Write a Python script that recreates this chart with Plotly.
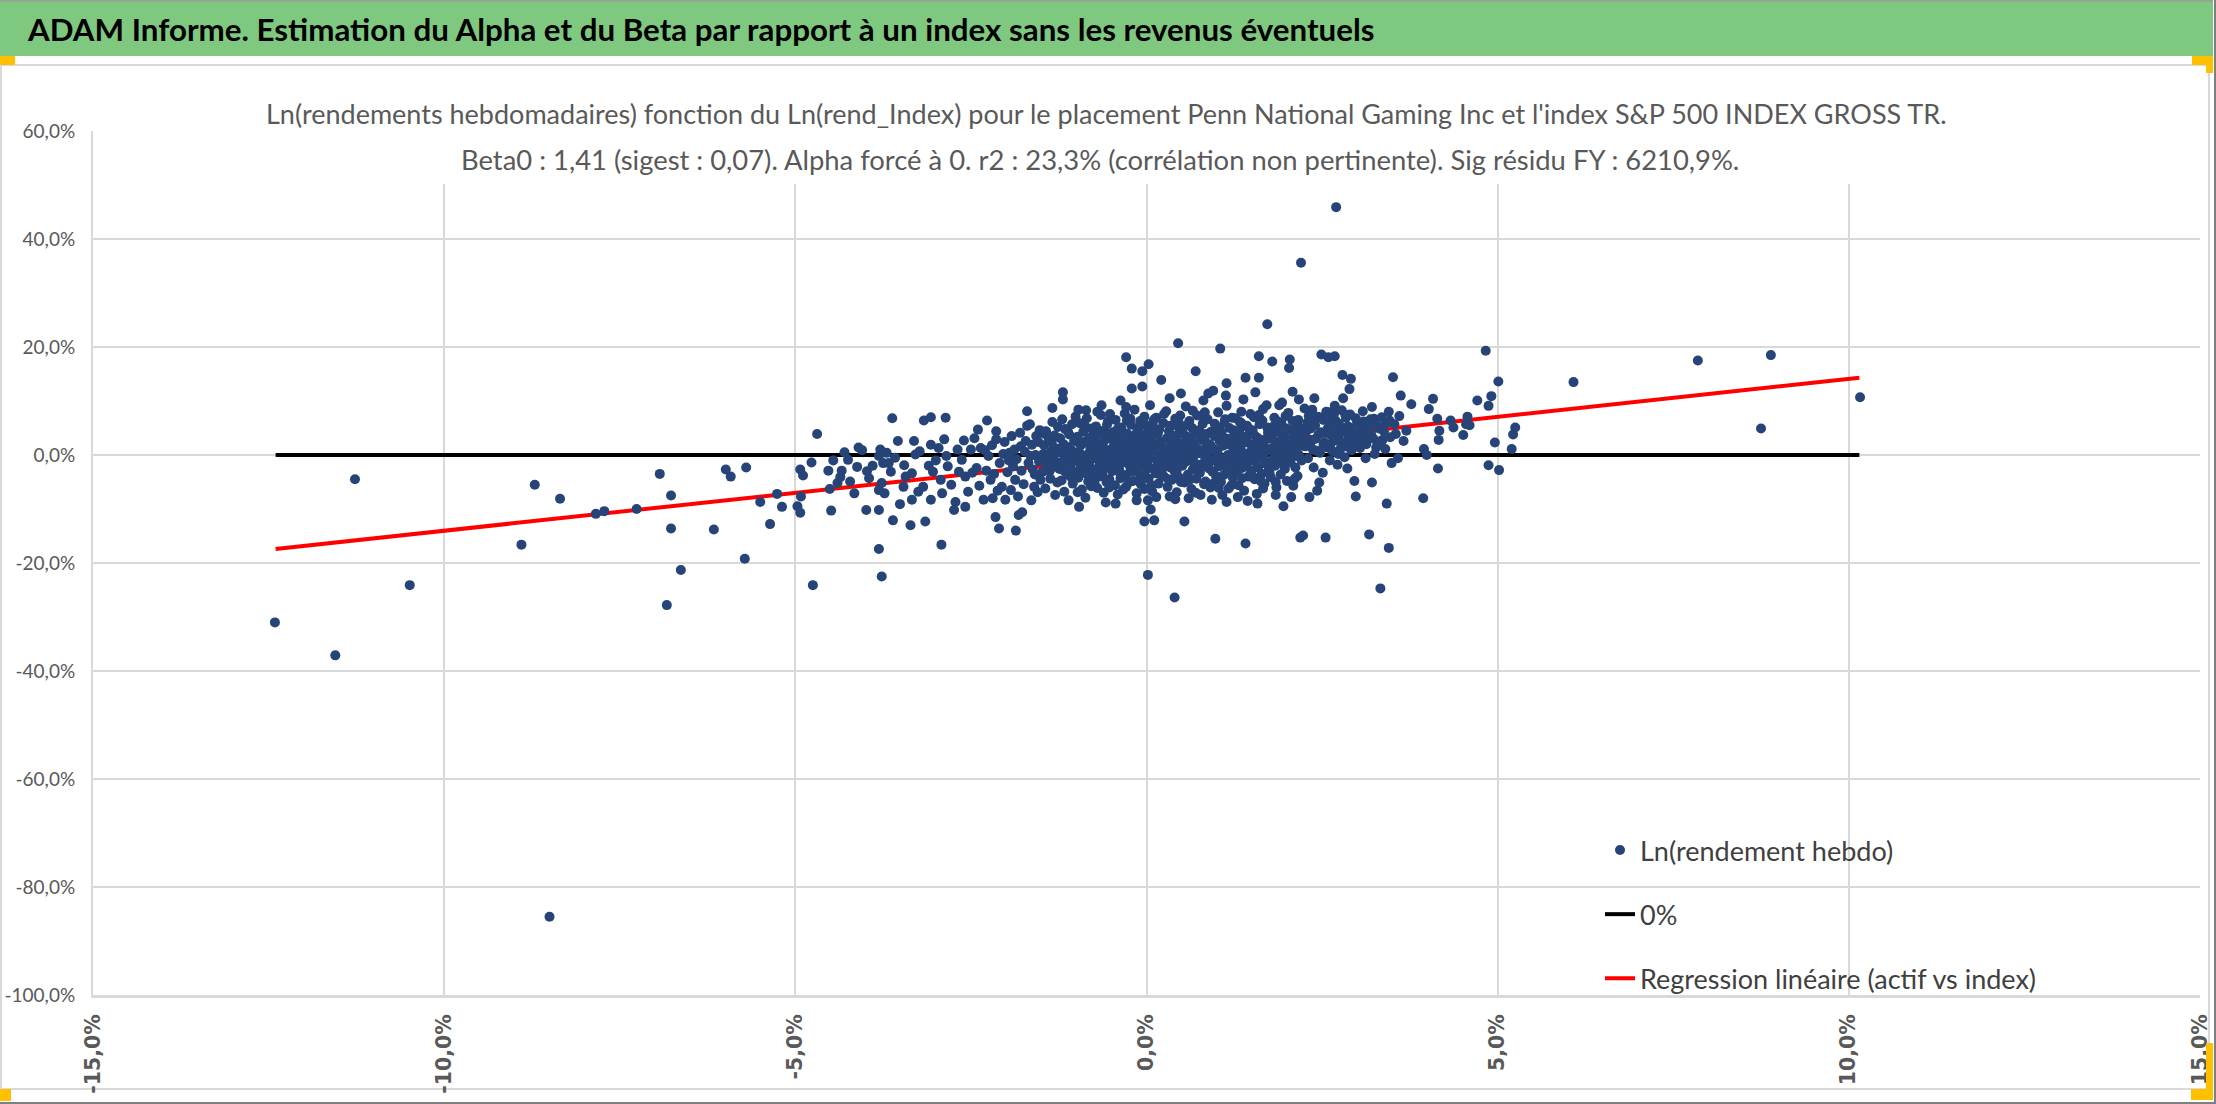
import plotly.graph_objects as go

# Ln(rendement hebdo) : (index S&P 500 en %, placement Penn National Gaming en %)
queue_gauche = [
    (-12.41, -31.0), (-11.55, -37.1), (-11.27, -4.5), (-10.49, -24.1), (-8.90, -16.6),
    (-8.71, -5.5), (-8.50, -85.5), (-8.35, -8.1), (-7.84, -10.9), (-7.72, -10.4),
    (-7.26, -10.0), (-6.93, -3.5), (-6.83, -27.8), (-6.77, -7.5), (-6.77, -13.6),
    (-6.63, -21.3), (-6.16, -13.8), (-5.99, -2.7), (-5.92, -4.0), (-5.70, -2.3),
    (-5.72, -19.2), (-5.50, -8.7), (-5.36, -12.8), (-5.26, -7.2), (-5.19, -9.6),
    (-4.93, -2.7), (-4.89, -3.8), (-4.97, -9.5), (-4.93, -10.7), (-4.92, -7.7),
    (-4.77, -1.4), (-4.69, 3.9), (-4.75, -24.1),
]

nuage_gauche = [
    (-4.53, -2.9), (-4.51, -6.3), (-4.49, -10.3), (-4.46, -1.0), (-4.40, -5.2), (-4.36, -4.1),
    (-4.34, -2.9), (-4.30, 0.5), (-4.25, -0.9), (-4.22, -4.9), (-4.16, -7.1), (-4.12, -2.2),
    (-4.10, 1.4), (-4.05, 0.9), (-3.99, -10.2), (-3.98, -3.0), (-3.95, -4.3), (-3.90, -2.0),
    (-3.81, -10.2), (-3.81, -17.4), (-3.77, -22.5), (-3.79, 1.0), (-3.81, -0.2), (-3.75, -1.5),
    (-3.70, 0.4), (-3.67, -1.5), (-3.64, -3.1), (-3.77, -5.2), (-3.73, -7.1), (-3.81, -6.5),
    (-3.62, 6.8), (-3.61, -12.1), (-3.58, -0.5), (-3.54, 2.6), (-3.51, -9.1), (-3.45, -1.9),
    (-3.43, -4.0), (-3.46, -5.9), (-3.36, -13.0), (-3.34, -3.4), (-3.34, -8.3), (-3.31, 2.6),
    (-3.29, 0.1), (-3.25, -6.8), (-3.23, 0.7), (-3.18, -5.9), (-3.17, 6.4), (-3.15, -12.3),
    (-3.10, -2.0), (-3.07, -8.3), (-3.07, 1.9), (-3.07, 7.0), (-3.04, -3.1), (-3.00, -1.0),
    (-2.96, 1.3), (-2.93, -4.6), (-2.92, -16.6), (-2.91, -7.1), (-2.88, 2.9), (-2.86, 6.9),
    (-2.85, -0.2), (-2.83, -2.1), (-2.78, -5.5), (-2.74, -10.2), (-2.72, -8.7), (-2.69, 1.0),
    (-2.67, -3.1), (-2.63, -0.9), (-2.60, 2.7), (-2.58, -4.0), (-2.58, -9.6), (-2.54, -6.8),
    (-2.50, 1.0), (-2.48, -3.3), (-2.45, 3.1), (-2.42, -2.4), (-2.40, 4.7), (-2.38, -5.7),
    (-2.36, 1.3), (-2.32, -8.3), (-2.30, 0.9), (-2.28, -2.9), (-2.27, 6.4), (-2.25, -0.2),
    (-2.22, -4.6), (-2.20, 1.8), (-2.19, -8.0), (-2.17, -3.5), (-2.15, -11.5), (-2.14, 2.9),
    (-2.14, 4.4), (-2.12, -6.6), (-2.10, -13.6), (-2.09, -1.5), (-2.06, -5.9), (-2.04, 0.2),
    (-2.02, 2.4), (-2.01, -8.3), (-1.98, -3.2), (-1.96, -1.0), (-1.95, 0.4), (-1.93, -6.5),
    (-1.92, 3.5), (-1.90, -2.1), (-1.88, 1.0), (-1.87, -4.6), (-1.86, -14.0), (-1.85, -0.8),
    (-1.83, -7.7), (-1.82, -11.1), (-1.80, 4.1), (-1.79, 1.6), (-1.78, -2.9), (-1.77, -10.6),
    (-1.75, -5.4), (-1.73, 0.6), (-1.72, 2.6), (-1.70, 5.4), (-1.70, 8.1), (-1.68, -1.5),
    (-1.66, 5.7), (-1.65, -0.2), (-1.64, -8.4), (-1.63, 1.9), (-1.62, -2.7), (-1.60, -5.9),
    (-1.59, -3.6), (-1.58, 0.0), (-1.57, 3.5), (-1.55, -6.9), (-1.54, 2.4), (-1.53, -1.2),
    (-1.52, 4.6), (-1.51, -4.6),
]

nuage_centre = [
    (-1.48, -3.1), (-1.47, 0.2), (-1.46, 1.8), (-1.45, 3.9), (-1.44, -6.2), (-1.43, 4.4),
    (-1.42, -1.8), (-1.41, -0.6), (-1.39, 2.9), (-1.38, -3.0), (-1.37, -4.4), (-1.36, 0.7),
    (-1.35, 2.3), (-1.34, 6.1), (-1.34, 8.7), (-1.33, -2.2), (-1.32, -0.1), (-1.31, 3.6),
    (-1.30, -7.4), (-1.29, -1.3), (-1.28, 1.2), (-1.27, -5.1), (-1.26, 5.2), (-1.24, -2.6),
    (-1.23, 3.1), (-1.22, 0.4), (-1.21, -4.7), (-1.20, 6.6), (-1.19, -1.2), (-1.19, 10.3),
    (-1.19, 11.6), (-1.18, 2.0), (-1.17, -6.8), (-1.16, 4.8), (-1.15, -0.5), (-1.14, 0.1),
    (-1.13, -3.6), (-1.12, 1.5), (-1.11, -8.4), (-1.10, 3.8), (-1.09, -1.6), (-1.08, -2.0),
    (-1.07, 0.9), (-1.06, 5.7), (-1.05, -5.3), (-1.04, -0.9), (-1.03, 2.6), (-1.02, -3.2),
    (-1.01, 7.1), (-0.99, -1.1), (-0.98, 3.4), (-0.97, -4.2), (-0.97, 8.4), (-0.96, 0.6),
    (-0.96, -9.6), (-0.95, 5.9), (-0.94, -2.5), (-0.93, 1.9), (-0.92, -6.4), (-0.91, -0.3),
    (-0.90, 4.3), (-0.89, -3.3), (-0.88, 2.4), (-0.87, -7.9), (-0.86, -1.7), (-0.86, 8.3),
    (-0.85, 6.8), (-0.84, 0.1), (-0.83, -4.9), (-0.82, 3.0), (-0.81, -2.2), (-0.80, 1.3),
    (-0.79, -5.8), (-0.78, 4.9), (-0.77, -0.7), (-0.76, 2.7), (-0.75, -3.8), (-0.74, 0.9),
    (-0.73, -2.9), (-0.72, 5.3), (-0.71, -0.2), (-0.70, -6.1), (-0.70, 8.0), (-0.69, 2.2),
    (-0.69, -2.4), (-0.68, -4.0), (-0.67, 3.9), (-0.66, -1.4), (-0.65, 7.4), (-0.64, 0.4),
    (-0.64, 9.2), (-0.63, -3.5), (-0.62, 1.6), (-0.61, -7.0), (-0.60, 4.6), (-0.59, -0.9),
    (-0.58, 2.9), (-0.58, -8.8), (-0.57, -5.0), (-0.56, -2.1), (-0.55, 6.2), (-0.54, 0.0),
    (-0.53, -4.5), (-0.52, 3.3), (-0.52, 7.6), (-0.51, -1.7), (-0.50, 1.1), (-0.49, -3.0),
    (-0.48, 4.2), (-0.47, -0.4), (-0.46, 2.0), (-0.45, -5.6), (-0.44, 6.5), (-0.44, -9.0),
    (-0.43, -1.9), (-0.42, 0.8), (-0.41, -7.3), (-0.41, -2.2), (-0.40, 3.5), (-0.39, -2.6),
    (-0.38, 1.4), (-0.37, -4.3), (-0.37, 10.1), (-0.36, 5.1), (-0.35, -0.8), (-0.34, 2.6),
    (-0.33, -6.4), (-0.33, 1.0), (-0.32, -1.3), (-0.31, 7.7), (-0.30, 0.3), (-0.29, -3.7),
    (-0.29, 8.9), (-0.29, 18.1), (-0.28, 4.0), (-0.28, 6.4), (-0.27, -0.1), (-0.26, 1.9),
    (-0.25, -5.1), (-0.24, 2.8), (-0.23, -2.3), (-0.22, 5.6), (-0.21, -0.6), (-0.21, 12.3),
    (-0.21, 16.0), (-0.20, 1.2), (-0.19, -4.8), (-0.18, 3.6), (-0.18, -1.0), (-0.17, 8.4),
    (-0.16, -1.6), (-0.15, 0.5), (-0.14, -7.1), (-0.14, -8.4), (-0.13, 4.5), (-0.12, -3.2),
    (-0.11, 2.3), (-0.11, 5.0), (-0.10, -0.3), (-0.09, 6.3), (-0.08, -5.4), (-0.07, 1.7),
    (-0.06, -2.0), (-0.06, 12.7), (-0.06, 15.5), (-0.05, 3.2), (-0.04, -0.9), (-0.03, 7.1),
    (-0.03, -6.3), (-0.03, -12.3), (-0.02, -3.9), (-0.01, 0.9), (0.01, -1.4), (0.02, 4.1),
    (0.02, -8.4), (0.02, -22.2), (0.03, -4.4), (0.03, 16.8), (0.04, 1.5), (0.05, 9.2),
    (0.06, -0.5), (0.06, -10.1), (0.07, 2.7), (0.08, -6.7), (0.08, 1.2), (0.09, 5.4),
    (0.10, -2.5), (0.11, 0.2), (0.11, -12.1), (0.12, 3.8), (0.12, 6.7), (0.13, -3.4),
    (0.14, 6.9), (0.14, -7.8), (0.15, -1.1), (0.16, 1.9), (0.17, -5.3), (0.18, 4.7),
    (0.18, -2.0), (0.19, -0.2), (0.20, 2.4), (0.21, 13.9), (0.22, -2.8), (0.23, 0.7),
    (0.24, 5.9), (0.25, -4.0), (0.26, 1.3), (0.27, -1.9), (0.28, 8.1), (0.29, 3.1),
    (0.30, -5.9), (0.30, -1.0), (0.31, 0.0), (0.32, 4.4), (0.33, 10.5), (0.33, -7.7),
    (0.34, -2.3), (0.35, 1.7), (0.36, -4.6), (0.36, 1.0), (0.37, 5.5), (0.38, -0.8),
    (0.39, 2.9), (0.40, -3.0), (0.40, -26.4), (0.41, 6.7), (0.41, -8.2), (0.42, 0.6),
    (0.43, -6.9), (0.44, 3.7), (0.45, -1.5), (0.45, 20.7), (0.46, 2.1), (0.47, -4.2),
    (0.47, 4.8), (0.48, 7.3), (0.49, 11.4), (0.50, -0.4), (0.51, -2.0), (0.52, 4.0),
    (0.53, 0.9), (0.54, -5.1), (0.54, -12.3), (0.55, 2.5), (0.56, 9.0), (0.57, -1.2),
    (0.57, 1.5), (0.58, 3.4), (0.59, -3.6), (0.60, 0.4), (0.60, -8.0), (0.61, 6.3),
    (0.62, -0.6), (0.63, 1.8), (0.64, -6.3), (0.65, 5.0), (0.66, -2.7), (0.66, 8.2),
    (0.67, 2.2), (0.68, -0.1), (0.69, 3.9), (0.70, 15.5), (0.70, -7.0), (0.71, -4.4),
    (0.72, 7.3), (0.73, 1.1), (0.74, -1.8), (0.75, 4.6), (0.76, -3.3), (0.77, -7.4),
    (0.78, 2.8), (0.79, 0.2), (0.79, -2.2), (0.80, 5.8), (0.81, 10.1), (0.82, -1.4),
    (0.83, 3.2), (0.83, 7.9), (0.84, -4.9), (0.85, 1.4), (0.86, -0.3), (0.87, 6.6),
    (0.87, -1.9), (0.88, 11.4), (0.89, -2.5), (0.90, 2.0), (0.91, -6.0), (0.92, 4.3),
    (0.92, 1.6), (0.93, -8.3), (0.94, 0.8), (0.95, 11.9), (0.95, -5.3), (0.96, -1.0),
    (0.97, 3.5), (0.98, -15.5), (0.99, -3.9), (1.00, 5.2), (1.01, 0.5), (1.02, 7.9),
    (1.03, -2.1), (1.04, 2.6), (1.04, 4.8), (1.05, 19.7), (1.06, -5.0), (1.07, 4.1),
    (1.08, -0.7), (1.08, -7.4), (1.09, 1.7), (1.10, -3.7), (1.11, 6.0), (1.12, -1.3),
    (1.13, 11.0), (1.14, -8.7), (1.14, 13.3), (1.14, 9.1), (1.15, 3.0), (1.16, 0.0),
    (1.17, -6.2), (1.18, 5.0), (1.18, -1.0), (1.19, -2.8), (1.20, 2.1), (1.21, -0.4),
    (1.22, 6.9), (1.23, -4.2), (1.24, 1.3), (1.25, 3.8), (1.26, -1.7), (1.27, 6.8),
    (1.28, 0.8), (1.29, -3.1), (1.30, 2.7), (1.30, -7.8), (1.31, -5.6), (1.32, 4.5),
    (1.33, -0.9), (1.34, 1.5), (1.35, 8.0), (1.35, 5.9), (1.36, -2.4), (1.37, 3.4),
    (1.38, 10.3), (1.39, -6.6), (1.40, 0.3), (1.41, 14.3), (1.41, -16.4), (1.42, -1.4),
    (1.43, 5.4), (1.44, 2.3), (1.44, -8.5), (1.45, -4.0), (1.46, -0.2), (1.47, 3.9),
    (1.47, -0.9), (1.48, 7.6), (1.49, -2.9), (1.50, 1.0), (1.51, 4.6), (1.52, -1.1),
    (1.53, 2.0), (1.53, 7.0), (1.54, -4.5), (1.55, 11.6), (1.56, 0.6), (1.57, -7.2),
    (1.58, 3.2), (1.58, -9.0), (1.59, -2.3), (1.60, 18.3), (1.60, 14.3), (1.61, 5.7),
    (1.62, -0.5), (1.63, 1.7), (1.64, -3.5), (1.65, 6.4), (1.66, 8.5), (1.66, -6.2),
    (1.67, 0.1), (1.68, -5.3), (1.69, 2.9), (1.69, 1.3), (1.70, -1.6), (1.71, 9.2),
    (1.72, 24.2), (1.73, 4.2), (1.74, -2.7), (1.75, 0.9), (1.76, 3.1), (1.77, -4.1),
    (1.78, 1.2), (1.79, 17.3), (1.80, -0.8), (1.80, 4.0), (1.81, 5.3), (1.82, 6.9),
    (1.83, -2.0), (1.84, 2.4), (1.84, -7.4), (1.85, -6.0), (1.86, 0.2), (1.87, 4.3),
    (1.88, -1.2), (1.89, 9.2), (1.90, 1.8), (1.91, -3.6), (1.92, 5.9), (1.92, 2.6),
    (1.93, 9.7), (1.94, 0.5), (1.95, -9.5), (1.96, 3.4), (1.97, -2.6), (1.97, -0.4),
    (1.98, 7.2), (1.99, 1.0), (2.00, -4.8), (2.01, 2.2), (2.02, 7.8), (2.03, 16.1),
    (2.04, 17.7), (2.05, -1.4), (2.06, 4.6), (2.06, -7.8), (2.07, 0.3), (2.08, 11.7),
    (2.09, -5.7), (2.10, 3.0), (2.11, 1.5), (2.12, -2.3), (2.13, 5.8), (2.13, -0.2),
    (2.14, 0.8), (2.15, -3.9), (2.16, 6.5), (2.17, 10.3), (2.18, 2.5), (2.18, 5.1),
    (2.19, -15.3), (2.20, 35.6), (2.21, -1.0), (2.22, 4.1), (2.23, -14.9), (2.24, 1.7),
    (2.25, 8.6),
]

# coeur du nuage, là où les points se recouvrent
nuage_dense = [
    (-1.21, 1.0), (-1.17, -2.9), (-1.12, 4.4), (-1.07, -4.1), (-1.02, 0.0), (-0.98, -6.9),
    (-0.95, 2.1), (-0.91, -1.9), (-0.88, 5.5), (-0.84, -3.6), (-0.80, -0.9), (-0.77, 3.6),
    (-0.74, -5.2), (-0.71, 1.9), (-0.68, -1.0), (-0.65, 4.4), (-0.62, -2.8), (-0.59, 0.8),
    (-0.56, 5.7), (-0.53, -6.0), (-0.50, -2.6), (-0.47, 2.8), (-0.44, -0.5), (-0.41, 4.8),
    (-0.38, -3.3), (-0.35, 0.3), (-0.32, 3.3), (-0.29, -5.9), (-0.26, -1.6), (-0.23, 6.7),
    (-0.20, -3.0), (-0.17, 1.9), (-0.14, -0.4), (-0.11, -4.7), (-0.08, 3.9), (-0.05, 0.4),
    (-0.02, 5.6), (0.01, -2.6), (0.04, 2.5), (0.07, -5.6), (0.10, 6.4), (0.13, -0.6),
    (0.16, 3.9), (0.19, -3.6), (0.22, 1.2), (0.25, 7.6), (0.28, -1.0), (0.31, -4.5),
    (0.34, 5.4), (0.37, 0.2), (0.40, 2.3), (0.43, -2.9), (0.46, 6.0), (0.49, -5.0),
    (0.52, 1.6), (0.55, -0.6), (0.58, 5.5), (0.61, -4.6), (0.64, 2.7), (0.67, -1.3),
    (0.70, 4.1), (0.73, -3.0), (0.76, 0.6), (0.79, 7.2), (0.82, -5.4), (0.85, 3.9),
    (0.88, -0.8), (0.91, 1.2), (0.94, -3.1), (0.97, 5.8), (1.00, 0.9), (1.03, -6.1),
    (1.06, 3.3), (1.09, -1.9), (1.12, 6.6), (1.15, -3.0), (1.18, 1.9), (1.21, -5.6),
    (1.24, 4.6), (1.27, -0.6), (1.30, 0.6), (1.33, 6.1), (1.36, -4.3), (1.39, 2.9),
    (1.42, -2.0), (1.45, 5.0), (1.48, 0.4), (1.51, -3.9), (1.54, 3.6), (1.57, -0.7),
    (1.60, 7.4), (1.63, -4.9), (1.66, 2.5), (1.69, -1.2), (1.72, 5.1), (1.75, -3.2),
    (1.78, 3.8), (1.81, 0.7), (1.84, -5.0), (1.87, 6.2), (1.90, -0.3), (1.93, 3.0),
    (1.96, -2.1), (1.99, 4.9), (2.02, -0.9), (2.05, 2.9), (2.08, 6.3), (2.11, -4.4),
    (2.14, 4.2), (2.17, 0.0), (2.26, 1.6), (2.28, 4.5), (2.31, 7.2), (2.35, 2.7),
    (2.38, 5.9), (2.42, 0.8), (2.45, 3.8), (2.49, 6.9), (2.52, 1.9), (2.55, 4.1),
    (2.59, 7.9), (2.62, 2.0), (2.66, 3.3), (2.69, 6.4), (2.73, 0.2), (2.77, 4.8),
    (2.80, 2.3), (2.83, 7.5), (2.87, 1.5), (2.91, 5.0), (2.94, 3.5), (2.98, 6.8),
    (3.01, 1.9), (3.05, 4.3), (3.09, 6.2), (3.13, 2.0), (3.16, 5.3), (3.20, 3.8),
    (3.24, 6.7), (3.27, 1.4), (3.31, 4.9), (3.36, 2.8), (3.41, 5.9), (3.46, 6.4),
    (3.55, 3.9), (3.60, 7.2),
]

nuage_droite = [
    (2.27, 3.3), (2.29, 6.0), (2.30, -0.6), (2.32, -7.8), (2.33, 2.1), (2.34, 4.9),
    (2.36, 8.4), (2.37, 1.0), (2.38, -2.3), (2.39, 10.5), (2.40, 5.5), (2.41, 3.0),
    (2.43, -6.6), (2.44, 7.1), (2.46, -5.1), (2.47, 0.4), (2.48, 4.2), (2.49, 18.6),
    (2.51, -3.3), (2.52, 6.5), (2.53, 2.3), (2.55, -15.3), (2.56, 8.0), (2.57, 1.4),
    (2.58, 4.9), (2.59, 18.1), (2.61, -1.0), (2.62, 6.2), (2.63, 3.6), (2.65, 0.7),
    (2.66, 5.1), (2.67, 7.6), (2.68, 18.3), (2.68, 9.1), (2.70, 45.9), (2.71, 2.7),
    (2.72, -1.8), (2.74, 5.8), (2.75, 3.9), (2.76, 1.1), (2.78, 8.3), (2.79, 14.8),
    (2.80, 10.5), (2.81, 4.4), (2.82, -0.4), (2.84, 6.9), (2.85, 2.5), (2.86, -2.5),
    (2.87, 5.3), (2.88, 3.2), (2.89, 12.2), (2.90, 7.5), (2.91, 14.1), (2.92, 0.9),
    (2.93, 4.6), (2.96, -4.8), (2.96, 2.0), (2.98, -7.7), (3.00, 6.0), (3.02, 3.4),
    (3.04, 1.3), (3.06, 5.0), (3.08, 8.1), (3.10, 2.8), (3.12, -0.6), (3.14, 4.0),
    (3.17, -14.7), (3.19, 6.6), (3.21, 8.9), (3.21, -5.1), (3.23, 3.0), (3.25, 0.2),
    (3.28, 5.5), (3.30, 2.1), (3.33, -24.7), (3.35, 7.0), (3.38, 4.4), (3.40, 1.1),
    (3.42, -9.0), (3.45, 8.0), (3.45, -17.2), (3.47, 3.3), (3.49, -1.5), (3.51, 14.4),
    (3.53, 5.7), (3.58, -0.6), (3.62, 11.0), (3.66, 2.6), (3.70, 4.5), (3.77, 9.4),
]

queue_droite = [
    (3.94, -8.0), (3.95, 1.1), (3.99, 0.0), (4.02, 8.5), (4.08, 10.4), (4.14, 6.7),
    (4.15, -2.5), (4.16, 2.8), (4.17, 4.5), (4.33, 6.4), (4.37, 5.1), (4.51, 3.7),
    (4.55, 5.7), (4.57, 7.1), (4.60, 5.5), (4.71, 10.1), (4.83, 19.3), (4.87, 9.1),
    (4.87, -1.9), (4.91, 10.9), (4.96, 2.3), (5.01, 13.6), (5.02, -2.8), (5.20, 1.1),
    (5.22, 3.8), (5.25, 5.1), (6.08, 13.5), (7.85, 17.5), (8.75, 4.9), (8.89, 18.5),
    (10.16, 10.7),
]

zero_x = [-12.4, 10.15]
zero_y = [0.0, 0.0]
reg_x = [-12.4, 10.15]
reg_y = [-17.4, 14.3]

y_ticks = [60, 40, 20, 0, -20, -40, -60, -80, -100]
y_labels = ["60,0%", "40,0%", "20,0%", "0,0%", "-20,0%", "-40,0%", "-60,0%", "-80,0%", "-100,0%"]
x_ticks = [-15, -10, -5, 0, 5, 10, 15]
x_labels = ["-15,0%", "-10,0%", "-5,0%", "0,0%", "5,0%", "10,0%", "15,0%"]

titre_haut = "ADAM Informe. Estimation du Alpha et du Beta par rapport à un index sans les revenus éventuels"
titre_1 = "Ln(rendements hebdomadaires) fonction du Ln(rend_Index) pour le placement Penn National Gaming Inc et l'index S&P 500 INDEX GROSS TR."
titre_2 = "Beta0 : 1,41 (sigest : 0,07). Alpha forcé à 0. r2 : 23,3% (corrélation non pertinente). Sig résidu FY : 6210,9%."

W, H = 2216, 1104
L, R, T, B = 93, 16, 131, 109
PW, PH = W - L - R, H - T - B


def px(x):
    return (x - L) / PW


def py(y):
    return 1 - (y - T) / PH


points = queue_gauche + nuage_gauche + nuage_centre + nuage_dense + nuage_droite + queue_droite
idx = [p[0] for p in points]
act = [p[1] for p in points]

fig = go.Figure()
fig.add_trace(go.Scatter(x=reg_x, y=reg_y, mode="lines", name="Regression linéaire (actif vs index)",
                         line=dict(color="#FF0000", width=4), legendrank=3, legendgroup="c"))
fig.add_trace(go.Scatter(x=zero_x, y=zero_y, mode="lines", name="0%",
                         line=dict(color="#000000", width=4), legendrank=2, legendgroup="b"))
fig.add_trace(go.Scatter(x=idx, y=act, mode="markers", name="Ln(rendement hebdo)",
                         marker=dict(color="#264478", size=10), legendrank=1, legendgroup="a"))

shapes = [
    # bandeau vert
    dict(type="rect", xref="paper", yref="paper", x0=px(0), x1=px(2213), y0=py(0), y1=py(56),
         fillcolor="#7EC97F", line=dict(width=0), layer="below"),
    dict(type="line", xref="paper", yref="paper", x0=px(0), x1=px(2213), y0=py(1), y1=py(1),
         line=dict(color="#8FA88F", width=2), layer="below"),
    # cadre du graphique
    dict(type="rect", xref="paper", yref="paper", x0=px(1), x1=px(2209), y0=py(65), y1=py(1089),
         fillcolor="rgba(0,0,0,0)", line=dict(color="#D9D9D9", width=2), layer="below"),
    # bord de l'image
    dict(type="line", xref="paper", yref="paper", x0=px(2215), x1=px(2215), y0=py(0), y1=py(1104),
         line=dict(color="#7F7F7F", width=2), layer="below"),
    dict(type="line", xref="paper", yref="paper", x0=px(0), x1=px(2216), y0=py(1103), y1=py(1103),
         line=dict(color="#7F7F7F", width=2), layer="below"),
    # fond blanc du titre
    dict(type="rect", xref="paper", yref="paper", x0=px(240), x1=px(1962), y0=py(90), y1=py(184),
         fillcolor="white", line=dict(width=0), layer="above"),
]
# poignées de sélection jaunes
for x0, y0, x1, y1 in [(0, 56, 15, 65), (2192, 56, 2213, 65), (2206, 56, 2213, 73),
                       (2206, 1043, 2213, 1100), (2191, 1089, 2213, 1100), (0, 1089, 11, 1101)]:
    shapes.append(dict(type="rect", xref="paper", yref="paper", x0=px(x0), x1=px(x1),
                       y0=py(y0), y1=py(y1), fillcolor="#FFC000", line=dict(width=0), layer="above"))

annotations = [
    dict(text=titre_haut, xref="paper", yref="paper", x=px(25), y=py(29), xanchor="left",
         yanchor="middle", showarrow=False, font=dict(family="Lato", size=31.3, color="black", weight="bold")),
    dict(text=titre_1, xref="paper", yref="paper", x=px(1106), y=py(113), xanchor="center",
         yanchor="middle", showarrow=False, font=dict(family="Lato", size=27, color="#595959")),
    dict(text=titre_2, xref="paper", yref="paper", x=px(1100), y=py(159), xanchor="center",
         yanchor="middle", showarrow=False, font=dict(family="Lato", size=27.4, color="#595959")),
]

fig.update_layout(
    width=W, height=H,
    margin=dict(l=L, r=R, t=T, b=B, autoexpand=False),
    paper_bgcolor="white", plot_bgcolor="white",
    shapes=shapes, annotations=annotations,
    showlegend=True,
    legend=dict(x=px(1600), y=py(826), xanchor="left", yanchor="top", bgcolor="rgba(0,0,0,0)",
                font=dict(family="Lato", size=27, color="#404040"), tracegroupgap=26,
                traceorder="grouped"),
)
fig.update_xaxes(range=[-15, 15], tickvals=x_ticks, ticktext=x_labels, tickangle=-90,
                 tickfont=dict(family="DejaVu Sans", size=20.5, color="#595959", weight="bold"),
                 showgrid=True, gridcolor="#D9D9D9", gridwidth=2, zeroline=False, automargin=False,
                 showline=True, linecolor="#D9D9D9", linewidth=3, ticks="", ticklabelstandoff=8)
fig.update_yaxes(range=[-100, 60], tickvals=y_ticks, ticktext=y_labels, automargin=False,
                 tickfont=dict(family="Lato", size=19, color="#595959"),
                 showgrid=True, gridcolor="#D9D9D9", gridwidth=2, zeroline=False,
                 showline=True, linecolor="#D9D9D9", linewidth=2, ticks="", ticklabelstandoff=12)

# la page par défaut a une marge de 8 px autour du graphique : on la retire
fig.write_html("out.html", config={"displayModeBar": False},
               post_script="document.body.style.margin = '0px';")
